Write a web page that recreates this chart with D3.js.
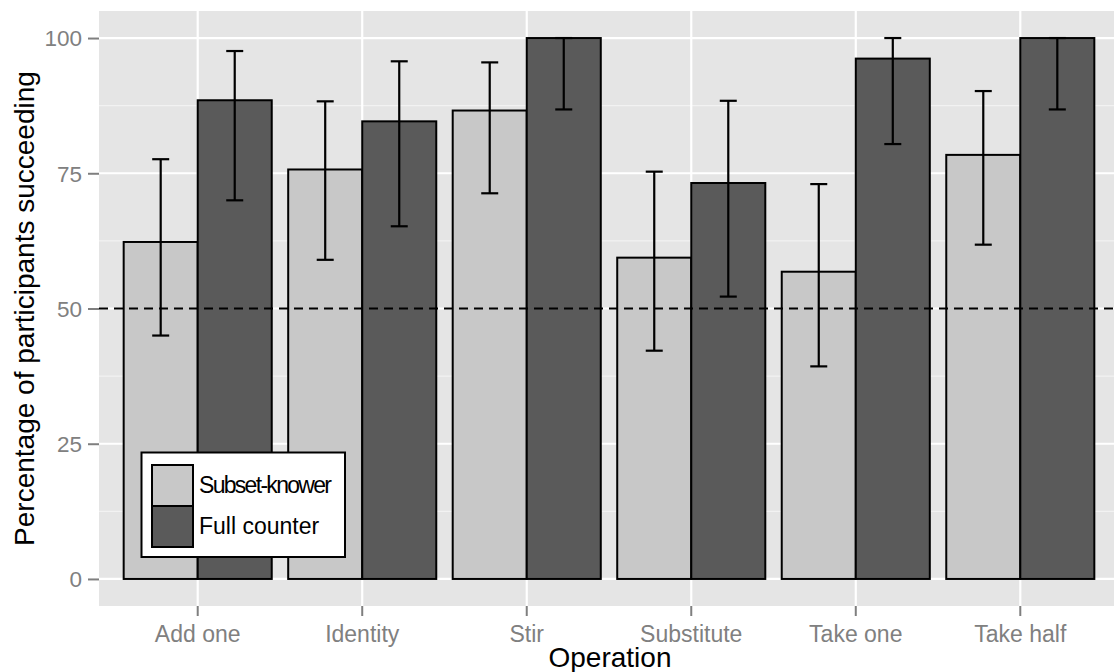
<!DOCTYPE html>
<html><head><meta charset="utf-8">
<script src="https://cdn.jsdelivr.net/npm/d3@7"></script>
<style>body{margin:0;background:#fff}svg{display:block}text{font-family:"Liberation Sans",Arial,sans-serif}</style>
</head><body><svg id="c" width="1114" height="672"></svg>
<script>
const categories = ["Add one","Identity","Stir","Substitute","Take one","Take half"];
const groups = ["Subset-knower","Full counter"];
const subsetVals = [62.3, 75.7, 86.6, 59.4, 56.8, 78.4];
const subsetLo   = [45.0, 59.0, 71.3, 42.2, 39.3, 61.8];
const subsetHi   = [77.6, 88.3, 95.5, 75.3, 73.0, 90.2];
const fullVals   = [88.5, 84.6, 100, 73.2, 96.2, 100];
const fullLo     = [70.0, 65.2, 86.8, 52.2, 80.4, 86.8];
const fullHi     = [97.6, 95.7, 100, 88.4, 100, 100];
const yTicks = [0, 25, 50, 75, 100];
const yMinor = [12.5, 37.5, 62.5, 87.5];
const refLine = 50;

const svg = d3.select("#c");
const P = {l: 99, t: 11, b: 606, r: 1119};
const y = d3.scaleLinear().domain([-5, 105]).range([P.b, P.t]);
const xc = d3.scaleLinear().domain([0.4, categories.length + 0.6]).range([P.l, P.r]);
const xPos = c => xc(categories.indexOf(c) + 1);
const barW = xc(1.45) - xc(1);

const g = svg.append("g");
svg.append("clipPath").attr("id","pc").append("rect").attr("x",P.l).attr("y",P.t).attr("width",1114-P.l).attr("height",P.b-P.t);
const pg = g.append("g").attr("clip-path","url(#pc)");
pg.append("rect").attr("x",P.l).attr("y",P.t).attr("width",P.r-P.l).attr("height",P.b-P.t).attr("fill","#e5e5e5");
pg.selectAll(".mi").data(yMinor).enter().append("line")
  .attr("x1",P.l).attr("x2",P.r).attr("y1",d=>y(d)).attr("y2",d=>y(d)).attr("stroke","#f2f2f2").attr("stroke-width",1.2);
pg.selectAll(".ma").data(yTicks).enter().append("line")
  .attr("x1",P.l).attr("x2",P.r).attr("y1",d=>y(d)).attr("y2",d=>y(d)).attr("stroke","#fff").attr("stroke-width",2.2);
pg.selectAll(".vx").data(categories).enter().append("line")
  .attr("y1",P.t).attr("y2",P.b).attr("x1",d=>xPos(d)).attr("x2",d=>xPos(d)).attr("stroke","#fff").attr("stroke-width",2.2);

const series = [
  {name: groups[0], vals: subsetVals, lo: subsetLo, hi: subsetHi, fill: "#c8c8c8", off: -0.225},
  {name: groups[1], vals: fullVals, lo: fullLo, hi: fullHi, fill: "#5a5a5a", off: 0.225}
];
series.forEach(s => {
  pg.selectAll(null).data(categories).enter().append("rect")
    .attr("x",(d,i)=>xc(i+1+s.off)-barW/2).attr("width",barW)
    .attr("y",(d,i)=>y(s.vals[i])).attr("height",(d,i)=>y(0)-y(s.vals[i]))
    .attr("fill",s.fill).attr("stroke","#000").attr("stroke-width",2);
});
series.forEach(s => {
  const capW = 8.5;
  categories.forEach((c,i) => {
    const cx = xc(i+1+s.off);
    pg.append("line").attr("x1",cx).attr("x2",cx).attr("y1",y(s.lo[i])).attr("y2",y(s.hi[i])).attr("stroke","#000").attr("stroke-width",2.2);
    [s.lo[i], s.hi[i]].forEach(v => pg.append("line").attr("x1",cx-capW).attr("x2",cx+capW).attr("y1",y(v)).attr("y2",y(v)).attr("stroke","#000").attr("stroke-width",2.2));
  });
});
pg.append("line").attr("x1",P.l).attr("x2",P.r).attr("y1",y(refLine)).attr("y2",y(refLine))
  .attr("stroke","#000").attr("stroke-width",2).attr("stroke-dasharray","9,6");

const yAxis = d3.axisLeft(y).tickValues(yTicks).tickSize(11).tickPadding(6);
const ya = g.append("g").attr("transform",`translate(${P.l},0)`).call(yAxis);
ya.select(".domain").remove();
ya.selectAll("line").attr("stroke","#7f7f7f").attr("stroke-width",2);
ya.selectAll("text").attr("fill","#808080").attr("font-size",22.5).attr("dy","0.35em");

const xb = d3.scaleBand().domain(categories).range([xc(0.5), xc(categories.length+0.5)]);
const xAxis = d3.axisBottom(xb).tickSize(10).tickPadding(9);
const xa = g.append("g").attr("transform",`translate(0,${P.b})`).call(xAxis);
xa.select(".domain").remove();
xa.selectAll("line").attr("stroke","#7f7f7f").attr("stroke-width",2);
xa.selectAll("text").attr("fill","#808080").attr("font-size",23).attr("dy","0.72em");

svg.append("text").attr("x",610).attr("y",667).attr("text-anchor","middle").attr("font-size",28).attr("fill","#000").text("Operation");
svg.append("text").attr("transform",`translate(34,${(P.t+P.b)/2}) rotate(-90)`).attr("text-anchor","middle").attr("font-size",28).attr("fill","#000").text("Percentage of participants succeeding");

const lg = svg.append("g");
lg.append("rect").attr("x",141.5).attr("y",452.5).attr("width",203.5).attr("height",104.5).attr("fill","#fff").attr("stroke","#000").attr("stroke-width",2);
series.forEach((s,i) => {
  lg.append("rect").attr("x",152).attr("y",465+i*41).attr("width",41).attr("height",41).attr("fill",s.fill).attr("stroke","#000").attr("stroke-width",2);
  const t = lg.append("text").attr("x",199).attr("y",493+i*41).attr("font-size",23).attr("fill","#000").text(s.name);
  if (i === 0) t.attr("textLength",133).attr("lengthAdjust","spacing");
});
</script></body></html>
